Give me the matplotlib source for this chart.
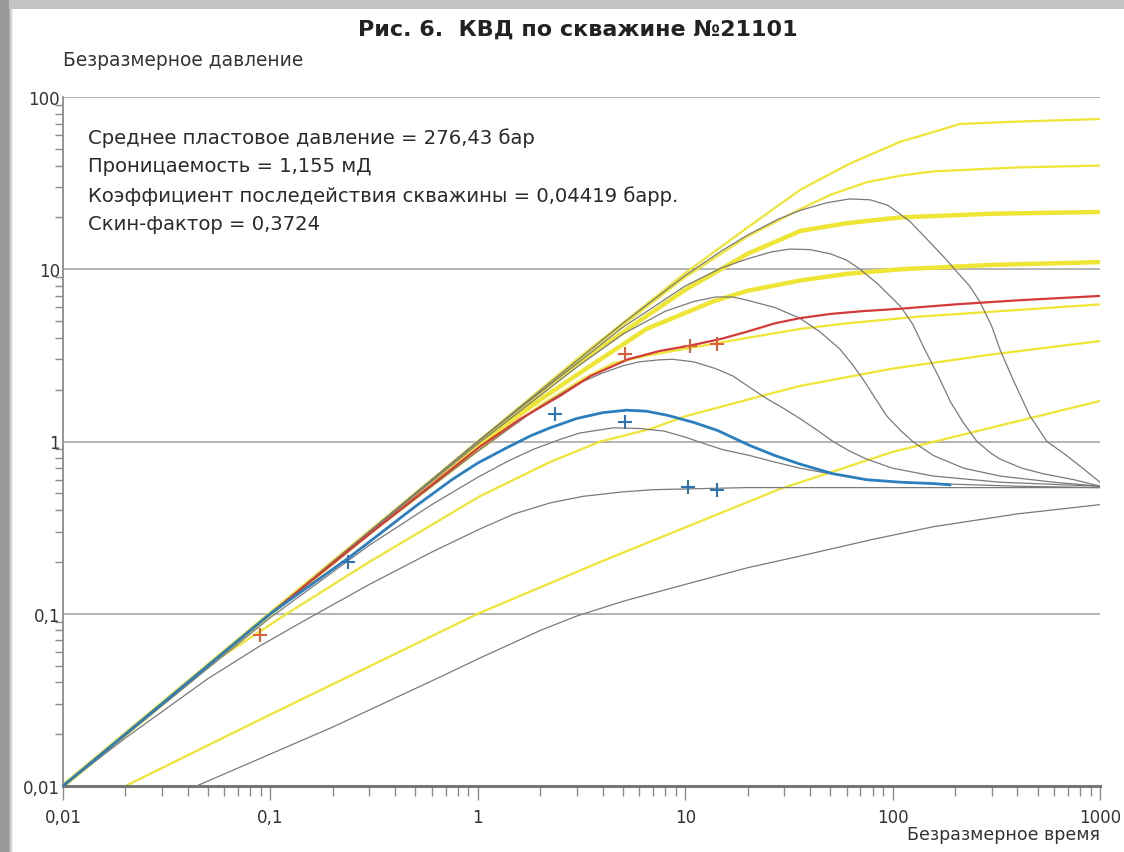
import matplotlib
matplotlib.use("Agg")
import matplotlib.pyplot as plt
from matplotlib.ticker import FixedLocator, LogLocator, FuncFormatter, NullFormatter
from matplotlib.patches import Rectangle
import numpy as np

plt.rcParams['font.family'] = ['DejaVu Sans']

# --- data ----------------------------------------------------------------
# yellow: pressure type curves
y1_x = [0.01, 0.1, 1, 3, 6, 10, 20, 36, 62, 109, 160, 211, 400, 1000]
y1_y = [0.01, 0.1, 1, 3, 5.8, 9.5, 17.5, 29, 41, 55, 63, 69.7, 72, 74.5]
y2_x = [0.01, 0.1, 1, 3, 6, 10, 20, 36, 50, 75, 110, 157, 400, 1000]
y2_y = [0.01, 0.1, 1, 2.95, 5.6, 9, 15.5, 22.4, 27, 32, 35, 37, 39, 40]
y3_x = [0.01, 0.1, 1, 3, 6, 10, 20, 36, 60, 109, 300, 1000]
y3_y = [0.01, 0.1, 0.98, 2.8, 5.0, 7.6, 12.3, 16.7, 18.5, 20, 21, 21.5]
y4_x = [0.01, 0.1, 0.5, 1, 2, 3.1, 6.5, 13.6, 20, 35.7, 60, 109, 300, 1000]
y4_y = [0.01, 0.1, 0.49, 0.95, 1.75, 2.5, 4.5, 6.5, 7.5, 8.6, 9.4, 10, 10.6, 11]
y5_x = [0.01, 0.1, 0.3, 1, 2, 3.2, 4.5, 6.5, 10, 14.2, 20, 35.7, 60, 131, 400, 1000]
y5_y = [0.01, 0.1, 0.29, 0.88, 1.62, 2.3, 2.85, 3.15, 3.45, 3.72, 4.0, 4.5, 4.85, 5.3, 5.8, 6.25]
y6_x = [0.01, 0.05, 0.12, 0.3, 1.02, 2.23, 3.9, 6.76, 10, 20, 35.7, 100, 300, 1000]
y6_y = [0.01, 0.05, 0.1, 0.2, 0.48, 0.76, 1.0, 1.18, 1.4, 1.75, 2.1, 2.65, 3.2, 3.83]
y7_x = [0.02, 0.1, 1, 3.9, 28.6, 100, 1000]
y7_y = [0.01, 0.026, 0.1, 0.2, 0.53, 0.87, 1.72]

# gray: derivative type curves
g1_x = [0.01, 0.1, 1, 5, 10, 15, 20, 28, 36, 48, 62, 78, 95, 121, 150, 180, 205,
        235, 264, 300, 330, 380, 459, 555, 680, 801, 1000]
g1_y = [0.01, 0.1, 1, 4.85, 9.2, 12.8, 15.8, 19.5, 22, 24.3, 25.6, 25.3, 23.5, 19,
        14.5, 11.5, 9.6, 8.0, 6.45, 4.7, 3.4, 2.3, 1.41, 1.0, 0.84, 0.72, 0.58]
g2_x = [0.01, 0.1, 1, 5, 10, 15, 20, 26, 32, 40, 50, 60, 69.7, 85, 109, 125, 140,
        169, 190, 218, 255, 300, 330, 420, 531, 750, 1000]
g2_y = [0.01, 0.1, 1, 4.6, 8, 10.2, 11.5, 12.6, 13.1, 13.0, 12.3, 11.3, 10, 8.2,
        6.1, 4.8, 3.6, 2.3, 1.7, 1.3, 1.0, 0.85, 0.79, 0.7, 0.65, 0.6, 0.55]
g3_x = [0.01, 0.1, 1, 3, 5, 8, 11, 14, 17, 20, 27, 35.7, 45, 55.7, 64, 72, 82, 94,
        110, 125, 157, 220, 330, 600, 1000]
g3_y = [0.01, 0.1, 0.97, 2.7, 4.2, 5.7, 6.5, 6.9, 6.9, 6.6, 6.0, 5.2, 4.3, 3.44,
        2.8, 2.3, 1.8, 1.4, 1.15, 1.0, 0.83, 0.7, 0.63, 0.58, 0.55]
g4_x = [0.01, 0.1, 0.3, 1, 2, 3, 4, 5, 6, 7.5, 8.7, 11, 14, 17, 20, 24.8, 30, 35.7,
        43, 51.6, 62, 75, 100, 157, 330, 1000]
g4_y = [0.01, 0.1, 0.29, 0.88, 1.6, 2.15, 2.5, 2.75, 2.9, 2.98, 3.0, 2.9, 2.65, 2.4,
        2.1, 1.77, 1.55, 1.36, 1.17, 1.0, 0.88, 0.79, 0.7, 0.63, 0.58, 0.55]
g5_x = [0.01, 0.1, 0.3, 0.6, 1, 1.4, 1.85, 2.5, 3.1, 4.5, 6, 7.9, 10, 11.8, 15,
        20.4, 27, 35.7, 50, 75, 110, 157, 400, 1000]
g5_y = [0.01, 0.095, 0.25, 0.43, 0.62, 0.77, 0.9, 1.03, 1.12, 1.2, 1.19, 1.15, 1.06,
        0.99, 0.9, 0.83, 0.76, 0.70, 0.65, 0.60, 0.58, 0.57, 0.55, 0.54]
g6_x = [0.01, 0.02, 0.05, 0.089, 0.15, 0.3, 0.6, 1.02, 1.5, 2.23, 3.2, 5, 7, 9.8,
        20, 50, 1000]
g6_y = [0.01, 0.019, 0.042, 0.065, 0.093, 0.148, 0.228, 0.31, 0.38, 0.44, 0.48,
        0.51, 0.525, 0.53, 0.54, 0.54, 0.54]
g7_x = [0.044, 0.2, 0.66, 1, 2, 3, 5, 10, 20, 35.7, 80, 157, 400, 1000]
g7_y = [0.01, 0.022, 0.043, 0.0546, 0.08, 0.097, 0.118, 0.148, 0.185, 0.216, 0.27,
        0.32, 0.38, 0.43]

# fitted curves
fit_p_x = [0.01, 0.1, 0.3, 0.6, 1.02, 1.6, 2.49, 3.5, 5.3, 7.5, 10.5, 15, 20, 27,
           35.7, 50, 70, 109, 200, 400, 1000]
fit_p_y = [0.01, 0.1, 0.29, 0.56, 0.93, 1.35, 1.84, 2.4, 3.0, 3.35, 3.6, 3.95, 4.35,
           4.85, 5.2, 5.5, 5.7, 5.9, 6.25, 6.6, 7.0]
fit_d_x = [0.01, 0.1, 0.237, 0.5, 0.75, 1.0, 1.38, 1.8, 2.23, 3, 4, 5.2, 6.5, 8.2,
           11, 14.3, 20.4, 27, 35.7, 51.6, 75, 110, 157, 189]
fit_d_y = [0.01, 0.1, 0.21, 0.42, 0.6, 0.75, 0.92, 1.08, 1.2, 1.36, 1.47, 1.52, 1.5,
           1.42, 1.29, 1.16, 0.95, 0.83, 0.74, 0.65, 0.6, 0.58, 0.57, 0.56]

# measured points
meas_p_x = [0.089, 5.1, 10.5, 14.2]
meas_p_y = [0.075, 3.22, 3.58, 3.7]
meas_d_x = [0.237, 2.35, 5.1, 10.3, 14.2]
meas_d_y = [0.20, 1.44, 1.30, 0.545, 0.52]

y_ticks = [0.01, 0.1, 1, 10, 100]
x_ticks = [0.01, 0.1, 1, 10, 100, 1000]

info_lines = [
    "Среднее пластовое давление = 276,43 бар",
    "Проницаемость = 1,155 мД",
    "Коэффициент последействия скважины = 0,04419 барр.",
    "Скин-фактор = 0,3724",
]

# --- figure ----------------------------------------------------------------
W, H = 1124, 853
fig = plt.figure(figsize=(W / 100, H / 100), dpi=100)
fig.patch.set_facecolor('white')

# gray frame at left and top
fig.patches.append(Rectangle((0, 1 - 10 / H), 1, 10 / H, transform=fig.transFigure,
                             facecolor='#c4c4c4', edgecolor='none', zorder=0))
fig.patches.append(Rectangle((0, 0), 9 / W, 1, transform=fig.transFigure,
                             facecolor='#9a9a9a', edgecolor='none', zorder=0))
for i, c in enumerate(['#b0b0b0', '#c8c8c8', '#dcdcdc', '#ececec']):
    fig.patches.append(Rectangle(((9 + i) / W, 0), 1 / W, 1 - 10 / H, transform=fig.transFigure,
                                 facecolor=c, edgecolor='none', zorder=0))

ax = fig.add_axes([63 / W, (H - 787) / H, (1100 - 63) / W, (787 - 98) / H])
ax.set_xscale('log')
ax.set_yscale('log')
ax.set_xlim(0.01, 1000)
ax.set_ylim(0.01, 100)
ax.patch.set_alpha(0)

yellow = '#eee534'
gray = '#7a7a7a'

for xs, ys in [(y1_x, y1_y), (y2_x, y2_y), (y5_x, y5_y), (y6_x, y6_y), (y7_x, y7_y)]:
    ax.plot(xs, ys, color=yellow, lw=1.6, zorder=2, solid_joinstyle='round')
for xs, ys in [(y3_x, y3_y), (y4_x, y4_y)]:
    ax.plot(xs, ys, color=yellow, lw=3.2, zorder=2, solid_joinstyle='round')

for xs, ys in [(g1_x, g1_y), (g2_x, g2_y), (g3_x, g3_y), (g4_x, g4_y),
               (g5_x, g5_y), (g6_x, g6_y), (g7_x, g7_y)]:
    ax.plot(xs, ys, color=gray, lw=0.9, zorder=3)

ax.plot(fit_p_x, fit_p_y, color='#d43a3a', lw=1.6, zorder=4)
ax.plot(fit_d_x, fit_d_y, color='#2c7fbf', lw=2.0, zorder=4)

ax.plot(meas_p_x, meas_p_y, linestyle='none', marker='+', ms=10, mew=1.5,
        color='#d9603a', zorder=5)
ax.plot(meas_d_x, meas_d_y, linestyle='none', marker='+', ms=10, mew=1.5,
        color='#2f74b0', zorder=5)

# axes styling
for s in ['top', 'right']:
    ax.spines[s].set_visible(False)
ax.spines['left'].set_color('#8c8c8c')
ax.spines['left'].set_linewidth(1.3)
ax.spines['bottom'].set_color('#777777')
ax.spines['bottom'].set_linewidth(2.2)

ax.yaxis.set_major_locator(FixedLocator(y_ticks))
ax.xaxis.set_major_locator(FixedLocator(x_ticks))
ax.xaxis.set_minor_locator(LogLocator(base=10, subs=np.arange(2, 10)))
ax.yaxis.set_minor_locator(LogLocator(base=10, subs=np.arange(2, 10)))
fmt = FuncFormatter(lambda v, p: f'{v:g}'.replace('.', ','))
ax.xaxis.set_major_formatter(fmt)
ax.yaxis.set_major_formatter(fmt)
ax.xaxis.set_minor_formatter(NullFormatter())
ax.yaxis.set_minor_formatter(NullFormatter())
ax.tick_params(axis='both', which='major', direction='out', color='#8c8c8c',
               labelsize=12, labelcolor='#333333')
ax.tick_params(axis='x', which='major', length=10, width=1, pad=6)
ax.tick_params(axis='x', which='minor', length=7, width=1, color='#8c8c8c', direction='out')
ax.tick_params(axis='y', which='major', length=0, pad=2)
ax.tick_params(axis='y', which='minor', length=6, width=1, color='#8c8c8c', direction='out')

ax.grid(True, axis='y', which='major', color='#a8a8a8', lw=1.2, zorder=1)
ax.set_axisbelow(True)

# texts
fig.text(578 / W, 1 - 30 / H, "Рис. 6.  КВД по скважине №21101", ha='center', va='center',
         fontsize=16, fontweight='bold', color='#222222')
fig.text(63 / W, 1 - 60 / H, "Безразмерное давление", ha='left', va='center',
         fontsize=13.4, color='#333333')
fig.text(1100 / W, 1 - 835 / H, "Безразмерное время", ha='right', va='center',
         fontsize=12.5, color='#333333')
for i, line in enumerate(info_lines):
    fig.text(88 / W, 1 - (138 + 29 * i) / H, line, ha='left', va='center',
             fontsize=14.1, color='#2a2a2a')

fig.savefig('out.png', dpi=100)
